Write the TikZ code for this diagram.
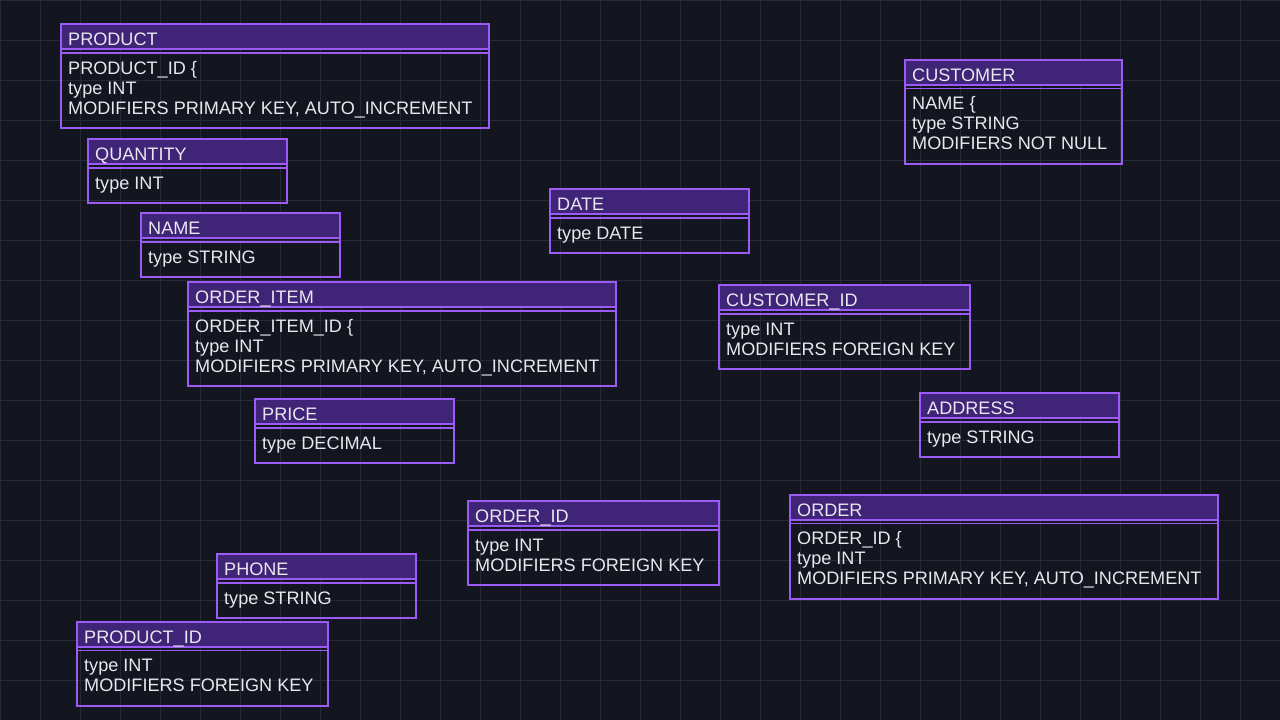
\documentclass[tikz,border=0pt]{standalone}
\usepackage{fontspec}
\setmainfont{Liberation Sans}
\definecolor{bg}{HTML}{13161F}
\definecolor{gridc}{HTML}{262A37}
\definecolor{bord}{HTML}{9B5CF6}
\definecolor{hdr}{HTML}{3F2478}
\definecolor{txt}{HTML}{E8E8EE}
\tikzset{
 erframe/.style={draw=bord, line width=2pt, inner sep=0pt, outer sep=0pt, anchor=north west},
 erhead/.style={fill=hdr},
 ersep/.style={draw=bord, line width=2pt},
 ersepthin/.style={draw=bord, line width=1.2pt},
 ertitle/.style={text=txt, inner sep=0pt, anchor=base west, font=\fontsize{18.1}{20}\selectfont},
 erbody/.style={text=txt, inner sep=0pt, anchor=north west, align=left, font=\fontsize{18.1}{20}\selectfont},
 gridline/.style={draw=gridc, line width=1pt},
}
\newcommand\erbox[7]{%
 \coordinate (#1-nw) at (#2,#3);
 \fill[erhead] (#1-nw) rectangle ++(#4,25);
 \node[erframe, minimum width=#4pt, minimum height=#5pt] (#1) at (#1-nw) {};
 \draw[ersep] ([yshift=-25pt]#1.north west) -- ([yshift=-25pt]#1.north east);
 \draw[ersepthin] ([yshift=-29pt]#1.north west) -- ([yshift=-29pt]#1.north east);
 \node[ertitle] (#1-title) at ([xshift=7pt,yshift=-21.8pt]#1.north west) {#6};
 \node[erbody] (#1-body) at ([xshift=7pt,yshift=-35.8pt]#1.north west) {\rule{0pt}{14pt}#7};
}
\begin{document}
\begin{tikzpicture}[x=1pt,y=-1pt]
\useasboundingbox (0,0) rectangle (1280,720);
\fill[bg] (0,0) rectangle (1280,720);
\foreach \x in {0,40,...,1280} \draw[gridline] (\x,0) -- (\x,720);
\foreach \y in {0,40,...,720} \draw[gridline] (0,\y) -- (1280,\y);

\erbox{product}{61}{24}{428}{104}{PRODUCT}{PRODUCT\_ID \{\\type INT\\MODIFIERS PRIMARY KEY, AUTO\_INCREMENT}
\erbox{customer}{905}{59.5}{217}{104}{CUSTOMER}{NAME \{\\type STRING\\MODIFIERS NOT NULL}
\erbox{quantity}{88}{139}{199}{64}{QUANTITY}{type INT}
\erbox{date}{550}{189}{199}{64}{DATE}{type DATE}
\erbox{name}{141}{213}{199}{64}{NAME}{type STRING}
\erbox{orderitem}{188}{282}{428}{104}{ORDER\_ITEM}{ORDER\_ITEM\_ID \{\\type INT\\MODIFIERS PRIMARY KEY, AUTO\_INCREMENT}
\erbox{customerid}{719}{285}{251}{84}{CUSTOMER\_ID}{type INT\\MODIFIERS FOREIGN KEY}
\erbox{address}{920}{393}{199}{64}{ADDRESS}{type STRING}
\erbox{price}{255}{399}{199}{64}{PRICE}{type DECIMAL}
\erbox{orderid}{468}{501}{251}{84}{ORDER\_ID}{type INT\\MODIFIERS FOREIGN KEY}
\erbox{order}{790}{494.5}{428}{104}{ORDER}{ORDER\_ID \{\\type INT\\MODIFIERS PRIMARY KEY, AUTO\_INCREMENT}
\erbox{phone}{217}{554}{199}{64}{PHONE}{type STRING}
\erbox{productid}{77}{621.5}{251}{84}{PRODUCT\_ID}{type INT\\MODIFIERS FOREIGN KEY}
\end{tikzpicture}
\end{document}
